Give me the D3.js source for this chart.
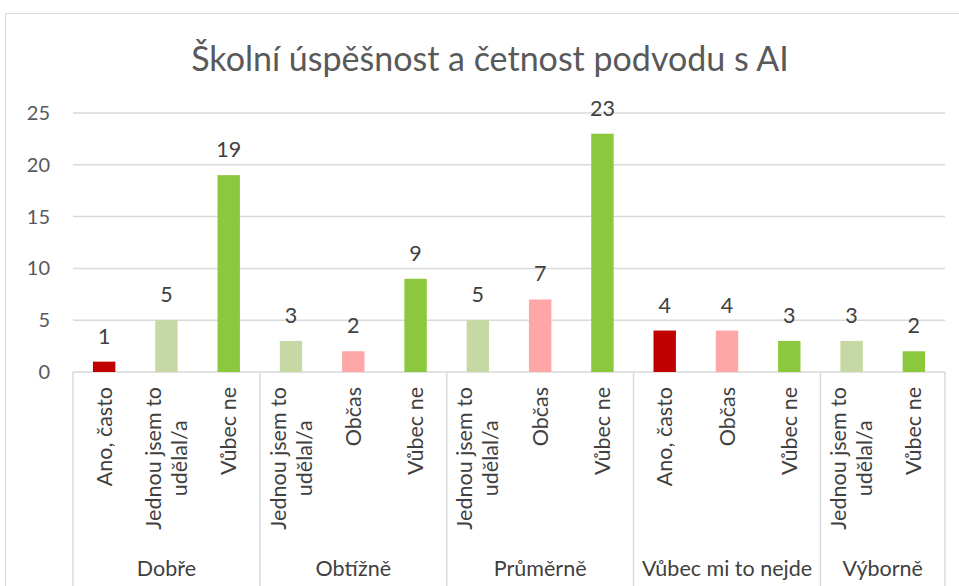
<!DOCTYPE html>
<html>
<head>
<meta charset="utf-8">
<script src="https://cdn.jsdelivr.net/npm/d3@7/dist/d3.min.js"></script>
<style>
  body { margin: 0; background: #fff; }
  text { font-family: Lato, "Open Sans", sans-serif; }
</style>
</head>
<body>
<div id="chart"></div>
<script>
// data
const groupNames = ["Dobře", "Obtížně", "Průměrně", "Vůbec mi to nejde", "Výborně"];
const answerLabels = [
  "Ano, často", "Jednou jsem to udělal/a", "Vůbec ne",
  "Jednou jsem to udělal/a", "Občas", "Vůbec ne",
  "Jednou jsem to udělal/a", "Občas", "Vůbec ne",
  "Ano, často", "Občas", "Vůbec ne",
  "Jednou jsem to udělal/a", "Vůbec ne"
];
const groupOf = [0, 0, 0, 1, 1, 1, 2, 2, 2, 3, 3, 3, 4, 4];
const counts = [1, 5, 19, 3, 2, 9, 5, 7, 23, 4, 4, 3, 3, 2];
const yTicks = [0, 5, 10, 15, 20, 25];

const answerColors = {
  "Ano, často": "#c00000",
  "Jednou jsem to udělal/a": "#c6d8a3",
  "Občas": "#ffa6a6",
  "Vůbec ne": "#8bc83d"
};

const width = 959, height = 586;
const plot = { left: 73, right: 945, top: 113, bottom: 372 };
const fs = 21.5;

const svg = d3.select("#chart").append("svg")
  .attr("width", width)
  .attr("height", height);

// chart area border (runs off the right / bottom edge)
svg.append("rect")
  .attr("x", 5.5).attr("y", 13.5)
  .attr("width", 970).attr("height", 600)
  .attr("fill", "#fff")
  .attr("stroke", "#d9d9d9");

svg.append("text")
  .attr("x", 490).attr("y", 71)
  .attr("text-anchor", "middle")
  .attr("fill", "#595959")
  .style("font-size", "34px")
  .text("Školní úspěšnost a četnost podvodu s AI");

const idx = d3.range(counts.length);

const x = d3.scaleBand()
  .domain(idx)
  .range([plot.left, plot.right])
  .paddingInner(0.64)
  .paddingOuter(0.32);

const y = d3.scaleLinear()
  .domain([0, 25])
  .range([plot.bottom, plot.top]);

// gridlines
svg.append("g")
  .selectAll("line")
  .data(yTicks)
  .enter().append("line")
  .attr("x1", plot.left).attr("x2", plot.right)
  .attr("y1", d => y(d)).attr("y2", d => y(d))
  .attr("stroke", "#d9d9d9")
  .attr("stroke-width", 1.5);

// y tick labels
svg.append("g")
  .selectAll("text")
  .data(yTicks)
  .enter().append("text")
  .attr("x", 50)
  .attr("y", d => y(d))
  .attr("dy", "0.35em")
  .attr("text-anchor", "end")
  .attr("fill", "#595959")
  .style("font-size", "20px")
  .text(d => d);

// bars
svg.append("g")
  .selectAll("rect")
  .data(idx)
  .enter().append("rect")
  .attr("x", i => x(i))
  .attr("y", i => y(counts[i]))
  .attr("width", x.bandwidth())
  .attr("height", i => y(0) - y(counts[i]))
  .attr("fill", i => answerColors[answerLabels[i]]);

// value labels
svg.append("g")
  .selectAll("text")
  .data(idx)
  .enter().append("text")
  .attr("x", i => x(i) + x.bandwidth() / 2)
  .attr("y", i => y(counts[i]) - 18)
  .attr("text-anchor", "middle")
  .attr("fill", "#404040")
  .style("font-size", fs + "px")
  .text(i => counts[i]);

// group separators on the category axis
const pad = (x.step() - x.bandwidth()) / 2;
const groupStarts = idx.filter(i => i === 0 || groupOf[i] !== groupOf[i - 1]);
const edges = groupStarts.map(i => x(i) - pad).concat([plot.right]);

svg.append("g")
  .selectAll("line")
  .data(edges)
  .enter().append("line")
  .attr("x1", d => d).attr("x2", d => d)
  .attr("y1", plot.bottom).attr("y2", height)
  .attr("stroke", "#d9d9d9")
  .attr("stroke-width", 1.5);

// group names
svg.append("g")
  .selectAll("text")
  .data(groupNames)
  .enter().append("text")
  .attr("x", (d, g) => (edges[g] + edges[g + 1]) / 2)
  .attr("y", 576)
  .attr("text-anchor", "middle")
  .attr("fill", "#404040")
  .style("font-size", fs + "px")
  .text(d => d);

// rotated answer labels, wrapped like Excel does
const maxLen = 165;
const lineH = 26;
const labelG = svg.append("g")
  .selectAll("g")
  .data(idx)
  .enter().append("g")
  .attr("transform", i => `translate(${x(i) + x.bandwidth() / 2},387) rotate(-90)`);

labelG.each(function(i) {
  const g = d3.select(this);
  const probe = g.append("text").style("font-size", fs + "px");
  const words = answerLabels[i].split(" ");
  const lines = [];
  let cur = [];
  words.forEach(w => {
    probe.text(cur.concat([w]).join(" "));
    if (cur.length && probe.node().getComputedTextLength() > maxLen) {
      lines.push(cur.join(" "));
      cur = [w];
    } else {
      cur.push(w);
    }
  });
  lines.push(cur.join(" "));
  const widths = lines.map(l => { probe.text(l); return probe.node().getComputedTextLength(); });
  probe.remove();
  const W = d3.max(widths);
  lines.forEach((l, k) => {
    g.append("text")
      .attr("x", -W / 2)
      .attr("y", (k - (lines.length - 1) / 2) * lineH)
      .attr("dy", "0.35em")
      .attr("text-anchor", "middle")
      .attr("fill", "#404040")
      .style("font-size", fs + "px")
      .text(l);
  });
});
</script>
</body>
</html>
